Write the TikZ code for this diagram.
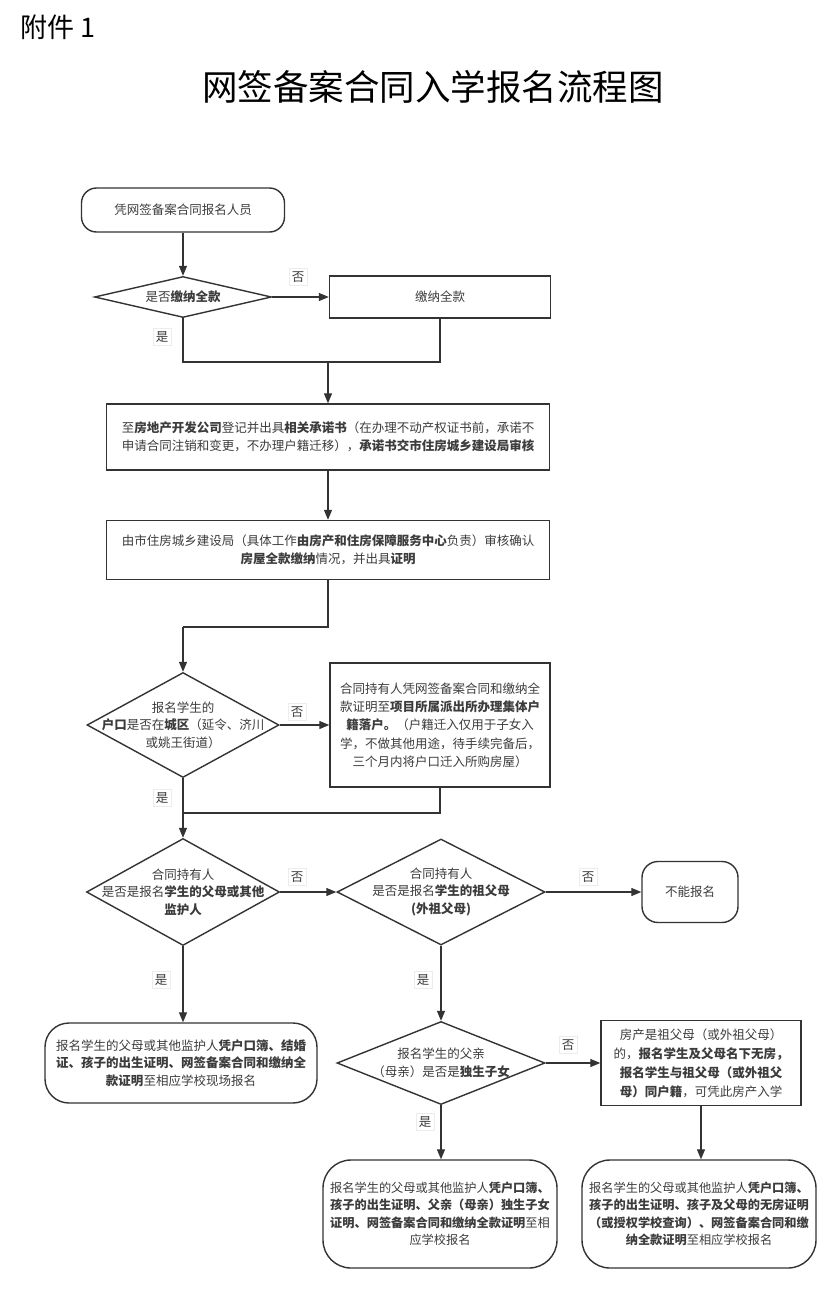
\documentclass[tikz,border=0pt]{standalone}
\usepackage{fontspec}
\setmainfont{Noto Sans CJK SC}
\usetikzlibrary{shapes.geometric,arrows.meta}
\definecolor{ln}{HTML}{333333}
\definecolor{tx}{HTML}{3C3C3C}
\begin{document}
\begin{tikzpicture}[x=1pt,y=-1pt,
 box/.style={draw=ln, line width=1.4pt, rectangle, inner sep=0pt},
 rbox/.style={box, rounded corners=15pt},
 dia/.style={draw=ln, line width=1.4pt, diamond, inner sep=0pt},
 txt/.style={font=\fontsize{12.5}{17.5}\selectfont, text=tx, align=center, inner sep=0pt},
 lab/.style={draw=gray!15, fill=white, font=\fontsize{12.5}{15}\selectfont, text=tx, inner sep=3pt},
 line/.style={draw=ln, line width=1.2pt},
 arr/.style={line, -{Triangle[length=10pt,width=8pt]}}
]
\useasboundingbox (0,0) rectangle (834,1309);
\fill[white] (0,0) rectangle (834,1309);

% header
\node[font=\fontsize{27}{30}\selectfont, anchor=west, inner sep=0pt] (att) at (20,27) {附件 1};
\node[font=\fontsize{35.5}{40}\selectfont, inner sep=0pt] (title) at (433,87) {网签备案合同入学报名流程图};

% nodes
\node[rbox, minimum width=203, minimum height=44] (n1) at (183,210) {};
\node[txt] (t1) at (n1) {凭网签备案合同报名人员};

\node[dia, minimum width=177, minimum height=41] (d1) at (183,297) {};
\node[txt] (td1) at (d1) {是否\textbf{缴纳全款}};

\node[box, minimum width=221, minimum height=42] (b1) at (440,297) {};
\node[txt] (tb1) at (b1) {缴纳全款};

\node[box, minimum width=443, minimum height=66] (b3) at (328,437) {};
\node[txt] (tb3) at (b3) {至\textbf{房地产开发公司}登记并出具\textbf{相关承诺书}（在办理不动产权证书前，承诺不\\申请合同注销和变更，不办理户籍迁移），\textbf{承诺书交市住房城乡建设局审核}};

\node[box, minimum width=443, minimum height=59] (b4) at (328,550) {};
\node[txt] (tb4) at (b4) {由市住房城乡建设局（具体工作\textbf{由房产和住房保障服务中心}负责）审核确认\\\textbf{房屋全款缴纳}情况，并出具\textbf{证明}};

\node[dia, minimum width=192, minimum height=105] (d2) at (183,725) {};
\node[txt] (td2) at (d2) {报名学生的\\\textbf{户口}是否在\textbf{城区}（延令、济川\\或姚王街道）};

\node[box, minimum width=220, minimum height=124] (b5) at (440,725) {};
\node[txt, font=\fontsize{12.5}{18.3}\selectfont] (tb5) at (b5) {合同持有人凭网签备案合同和缴纳全\\款证明至\textbf{项目所属派出所办理集体户}\\\textbf{籍落户。}（户籍迁入仅用于子女入\\学，不做其他用途，待手续完备后，\\三个月内将户口迁入所购房屋）};

\node[dia, minimum width=193, minimum height=107] (d3) at (183,892) {};
\node[txt] (td3) at (d3) {合同持有人\\是否是报名\textbf{学生的父母或其他}\\\textbf{监护人}};

\node[dia, minimum width=208, minimum height=106] (d4) at (441,892) {};
\node[txt] (td4) at (d4) {合同持有人\\是否是报名\textbf{学生的祖父母}\\\textbf{(外祖父母)}};

\node[rbox, minimum width=96, minimum height=61, rounded corners=16pt] (n6) at (690,892) {};
\node[txt] (tn6) at (n6) {不能报名};

\node[rbox, minimum width=272, minimum height=80, rounded corners=24pt] (b7) at (181,1063) {};
\node[txt] (tb7) at (b7) {报名学生的父母或其他监护人\textbf{凭户口簿、结婚}\\\textbf{证、孩子的出生证明、网签备案合同和缴纳全}\\\textbf{款证明}至相应学校现场报名};

\node[dia, minimum width=208, minimum height=83] (d5) at (441,1063) {};
\node[txt] (td5) at (d5) {报名学生的父亲\\（母亲）是否是\textbf{独生子女}};

\node[box, minimum width=200, minimum height=85] (b8) at (701,1063) {};
\node[txt, font=\fontsize{12.5}{19}\selectfont] (tb8) at (b8) {房产是祖父母（或外祖父母）\\的，\textbf{报名学生及父母名下无房，}\\\textbf{报名学生与祖父母（或外祖父}\\\textbf{母）同户籍}，可凭此房产入学};

\node[rbox, minimum width=234, minimum height=108, rounded corners=28pt] (b9) at (440,1214) {};
\node[txt, font=\fontsize{12.2}{17.5}\selectfont] (tb9) at (b9) {报名学生的父母或其他监护人\textbf{凭户口簿、}\\\textbf{孩子的出生证明、父亲（母亲）独生子女}\\\textbf{证明、网签备案合同和缴纳全款证明}至相\\应学校报名};

\node[rbox, minimum width=234, minimum height=108, rounded corners=28pt] (b10) at (699,1214) {};
\node[txt, font=\fontsize{12.2}{17.5}\selectfont] (tb10) at (b10) {报名学生的父母或其他监护人\textbf{凭户口簿、}\\\textbf{孩子的出生证明、孩子及父母的无房证明}\\\textbf{（或授权学校查询）、网签备案合同和缴}\\\textbf{纳全款证明}至相应学校报名};

% junction coordinates
\coordinate (j1) at (328,362);
\coordinate (j2) at (183,627);
\coordinate (j3) at (183,813);

% connectors
\draw[arr] (n1.south) -- (d1.north);
\draw[arr] (d1.east) -- (b1.west);
\draw[line] (d1.south) -- (d1.south |- j1) -- (b1.south |- j1) -- (b1.south);
\draw[arr] (j1) -- (b3.north);
\draw[arr] (b3.south) -- (b4.north);
\draw[line] (b4.south) -- (b4.south |- j2) -- (j2);
\draw[arr] (j2) -- (d2.north);
\draw[arr] (d2.east) -- (b5.west);
\draw[line] (d2.south) -- (j3);
\draw[line] (b5.south) -- (b5.south |- j3) -- (j3);
\draw[arr] (j3) -- (d3.north);
\draw[arr] (d3.east) -- (d4.west);
\draw[arr] (d4.east) -- (n6.west);
\draw[arr] (d3.south) -- (d3.south |- b7.north);
\draw[arr] (d4.south) -- (d5.north);
\draw[arr] (d5.east) -- (b8.west);
\draw[arr] (d5.south) -- (d5.south |- b9.north);
\draw[arr] (b8.south) -- (b8.south |- b10.north);

% labels
\node[lab] (l1) at (298,277) {否};
\node[lab] (l2) at (162,337) {是};
\node[lab] (l3) at (297,712) {否};
\node[lab] (l4) at (162,798) {是};
\node[lab] (l5) at (297,877) {否};
\node[lab] (l6) at (588,877) {否};
\node[lab] (l7) at (161,980) {是};
\node[lab] (l8) at (423,980) {是};
\node[lab] (l9) at (568,1045) {否};
\node[lab] (l10) at (425,1122) {是};
\end{tikzpicture}
\end{document}
